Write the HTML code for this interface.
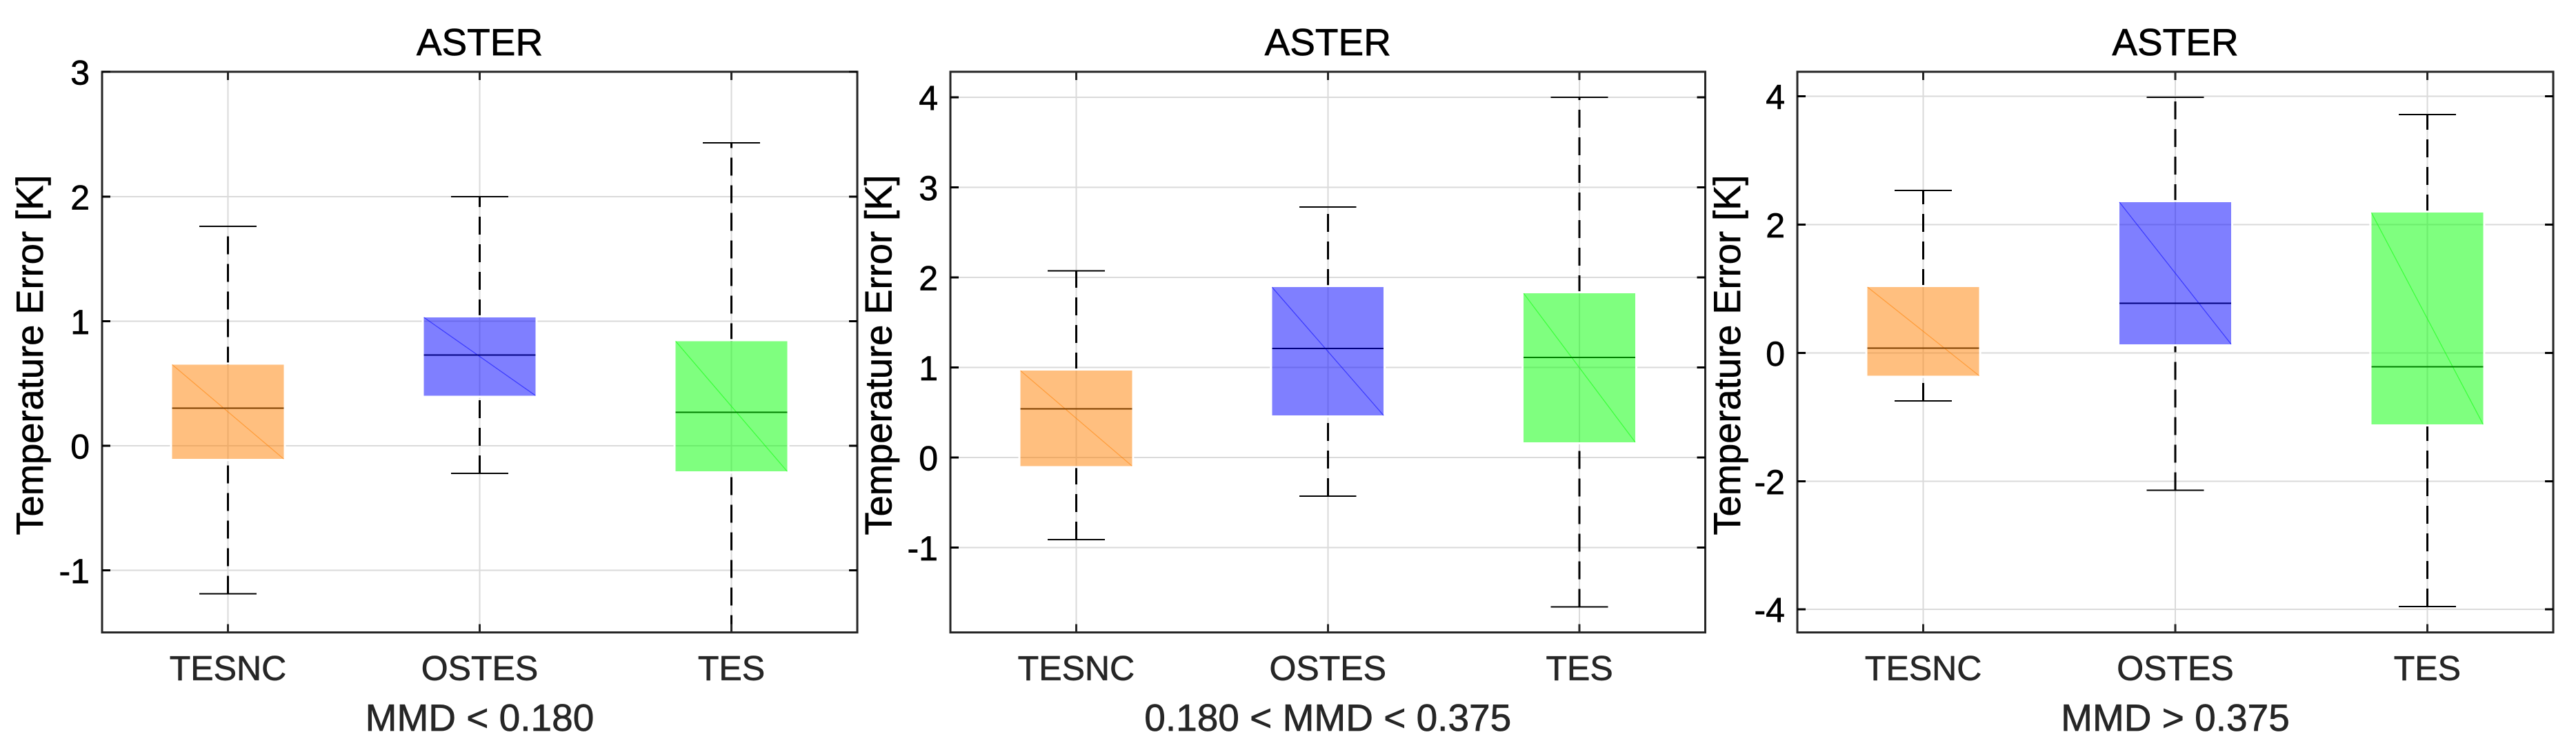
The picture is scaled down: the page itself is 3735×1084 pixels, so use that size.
<!DOCTYPE html>
<html lang="en">
<head>
<meta charset="utf-8">
<title>ASTER temperature error box plots</title>
<style>
html,body{margin:0;padding:0;background:#fff;width:3735px;height:1084px;overflow:hidden}
svg{display:block;font-family:"Liberation Sans",Arial,sans-serif}
text{stroke-width:0.7px;paint-order:stroke}
</style>
</head>
<body>
<svg id="figure" xmlns="http://www.w3.org/2000/svg" width="3735" height="1084" viewBox="0 0 3735 1084"></svg>
<script>
// ---- data ----
const categories = ['TESNC', 'OSTES', 'TES'];
const panelTitles = ['ASTER', 'ASTER', 'ASTER'];
const panelXLabels = ['MMD < 0.180', '0.180 < MMD < 0.375', 'MMD > 0.375'];
const yLabelText = 'Temperature Error [K]';

const panel1Ticks = [-1, 0, 1, 2, 3];
const panel1Limits = [-1.5, 3];
const panel1High = [1.76, 2.0, 2.43];
const panel1Q3 = [0.651, 1.03, 0.839];
const panel1Median = [0.30, 0.728, 0.268];
const panel1Q1 = [-0.107, 0.402, -0.207];
const panel1Low = [-1.19, -0.222, -1.505];

const panel2Ticks = [-1, 0, 1, 2, 3, 4];
const panel2Limits = [-1.944, 4.28];
const panel2High = [2.07, 2.78, 4.0];
const panel2Q3 = [0.964, 1.89, 1.822];
const panel2Median = [0.54, 1.208, 1.112];
const panel2Q1 = [-0.095, 0.466, 0.169];
const panel2Low = [-0.911, -0.429, -1.658];

const panel3Ticks = [-4, -2, 0, 2, 4];
const panel3Limits = [-4.36, 4.38];
const panel3High = [2.53, 3.985, 3.717];
const panel3Q3 = [1.026, 2.35, 2.186];
const panel3Median = [0.074, 0.773, -0.216];
const panel3Q1 = [-0.357, 0.134, -1.115];
const panel3Low = [-0.751, -2.14, -3.955];

// ---- styling and layout ----
const fillColors = ['rgb(255,128,0)', 'rgb(0,0,255)', 'rgb(0,255,0)'];
const medianColors = ['#7f4000', '#00007f', '#007f00'];
const SVGNS = 'http://www.w3.org/2000/svg';
const figure = document.getElementById('figure');

function mk(parent, tag, attrs, text) {
  const el = document.createElementNS(SVGNS, tag);
  for (const k in attrs) el.setAttribute(k, attrs[k]);
  if (text !== undefined) el.textContent = text;
  parent.appendChild(el);
  return el;
}

function drawPanel(idx, left, right, top, bottom, ylabelOffset, limits, ticks, high, q3, med, q1, low) {
  const xScale = v => left + (v - 0.5) / 3 * (right - left);
  const yScale = v => bottom - (v - limits[0]) / (limits[1] - limits[0]) * (bottom - top);
  const boxHalf = 0.2218;
  const capHalf = 0.1137;
  const clipId = 'clip-panel-' + idx;

  const g = mk(figure, 'g', {});
  
  

  const defs = mk(g, 'defs', {});
  const cp = mk(defs, 'clipPath', { id: clipId });
  mk(cp, 'rect', { x: left, y: top, width: right - left, height: bottom - top });

  // grid
  const grid = mk(g, 'g', { stroke: '#dadada', 'stroke-width': 2, 'shape-rendering': 'crispEdges' });
  
  
  ticks.forEach(t => {
    const line = mk(grid, 'line', { x1: left, x2: right, y1: yScale(t), y2: yScale(t) });
    
    
  });
  categories.forEach((c, i) => {
    const line = mk(grid, 'line', { x1: xScale(i + 1), x2: xScale(i + 1), y1: top, y2: bottom });
    
    
  });

  // boxes
  const marks = mk(g, 'g', { 'clip-path': 'url(#' + clipId + ')' });
  
  
  categories.forEach((c, i) => {
    const cx = xScale(i + 1);
    const bx0 = xScale(i + 1 - boxHalf);
    const bx1 = xScale(i + 1 + boxHalf);
    const capX0 = xScale(i + 1 - capHalf);
    const capX1 = xScale(i + 1 + capHalf);

    // whiskers are stroked upward, so the dash phase starts at the lower end
    const upper = mk(marks, 'line', { x1: cx, x2: cx, y1: yScale(q3[i]), y2: yScale(high[i]), stroke: '#000', 'stroke-width': 3, 'stroke-dasharray': '26 14', 'shape-rendering': 'crispEdges' });
    
    
    const lower = mk(marks, 'line', { x1: cx, x2: cx, y1: yScale(low[i]), y2: yScale(q1[i]), stroke: '#000', 'stroke-width': 3, 'stroke-dasharray': '26 14', 'shape-rendering': 'crispEdges' });
    
    
    const capHi = mk(marks, 'line', { x1: capX0, x2: capX1, y1: yScale(high[i]), y2: yScale(high[i]), stroke: '#000', 'stroke-width': 2, 'shape-rendering': 'crispEdges' });
    
    
    const capLo = mk(marks, 'line', { x1: capX0, x2: capX1, y1: yScale(low[i]), y2: yScale(low[i]), stroke: '#000', 'stroke-width': 2, 'shape-rendering': 'crispEdges' });
    
    

    const yTop = yScale(q3[i]);
    const yBot = yScale(q1[i]);
    const halo = mk(marks, 'rect', { x: bx0 - 1.5, y: yTop - 1.5, width: bx1 - bx0 + 3, height: yBot - yTop + 3, fill: 'none', stroke: '#fff', 'stroke-width': 3 });
    
    
    const box = mk(marks, 'rect', { x: bx0, y: yTop, width: bx1 - bx0, height: yBot - yTop, fill: fillColors[i], 'fill-opacity': 0.5, 'shape-rendering': 'crispEdges' });
    
    
    const diag = mk(marks, 'line', { x1: bx0, y1: yTop, x2: bx1, y2: yBot, stroke: fillColors[i], 'stroke-opacity': 0.55, 'stroke-width': 1.2 });
    
    
    const median = mk(marks, 'line', { x1: bx0, x2: bx1, y1: yScale(med[i]), y2: yScale(med[i]), stroke: medianColors[i], 'stroke-width': 2, 'shape-rendering': 'crispEdges' });
    
    
  });

  // axes box and ticks
  const axes = mk(g, 'g', { stroke: '#262626', 'stroke-width': 3, fill: 'none', 'shape-rendering': 'crispEdges' });
  
  
  const frame = mk(axes, 'rect', { x: left, y: top, width: right - left, height: bottom - top });
  
  
  const tickLen = 12;
  ticks.forEach(t => {
    const y = yScale(t);
    const tl = mk(axes, 'line', { x1: left, x2: left + tickLen, y1: y, y2: y, stroke: '#000' });
    
    
    const tr = mk(axes, 'line', { x1: right, x2: right - tickLen, y1: y, y2: y, stroke: '#000' });
    
    
    const lab = mk(g, 'text', { x: left - 18, y: y + 18.5, 'text-anchor': 'end', 'font-size': 50, fill: '#000', stroke: '#000' }, String(t));
    
    
  });
  categories.forEach((c, i) => {
    const x = xScale(i + 1);
    const tb = mk(axes, 'line', { x1: x, x2: x, y1: bottom, y2: bottom - tickLen });
    
    
    const tt = mk(axes, 'line', { x1: x, x2: x, y1: top, y2: top + tickLen });
    
    
    const lab = mk(g, 'text', { x: x, y: 985.5, 'text-anchor': 'middle', 'font-size': 50, fill: '#262626', stroke: '#262626' }, c);
    
    
  });

  // labels
  const mid = (left + right) / 2;
  const title = mk(g, 'text', { x: mid, y: 80, 'text-anchor': 'middle', 'font-size': 55, fill: '#000', stroke: '#000' }, panelTitles[idx]);
  
  
  const xl = mk(g, 'text', { x: mid, y: 1059, 'text-anchor': 'middle', 'font-size': 55, fill: '#262626', stroke: '#262626' }, panelXLabels[idx]);
  
  
  const yx = left - ylabelOffset;
  const yl = mk(g, 'text', { x: yx, y: 514.5, 'text-anchor': 'middle', 'font-size': 54.3, fill: '#000', stroke: '#000', transform: 'rotate(-90 ' + yx + ' 514.5)' }, yLabelText);
  
  
}

drawPanel(0, 148, 1243, 104.2, 916.7, 85.8, panel1Limits, panel1Ticks, panel1High, panel1Q3, panel1Median, panel1Q1, panel1Low);
drawPanel(1, 1378, 2472.5, 104.2, 916.7, 85.5, panel2Limits, panel2Ticks, panel2High, panel2Q3, panel2Median, panel2Q1, panel2Low);
drawPanel(2, 2606, 3702, 104.2, 916.7, 83, panel3Limits, panel3Ticks, panel3High, panel3Q3, panel3Median, panel3Q1, panel3Low);
</script>
</body>
</html>
